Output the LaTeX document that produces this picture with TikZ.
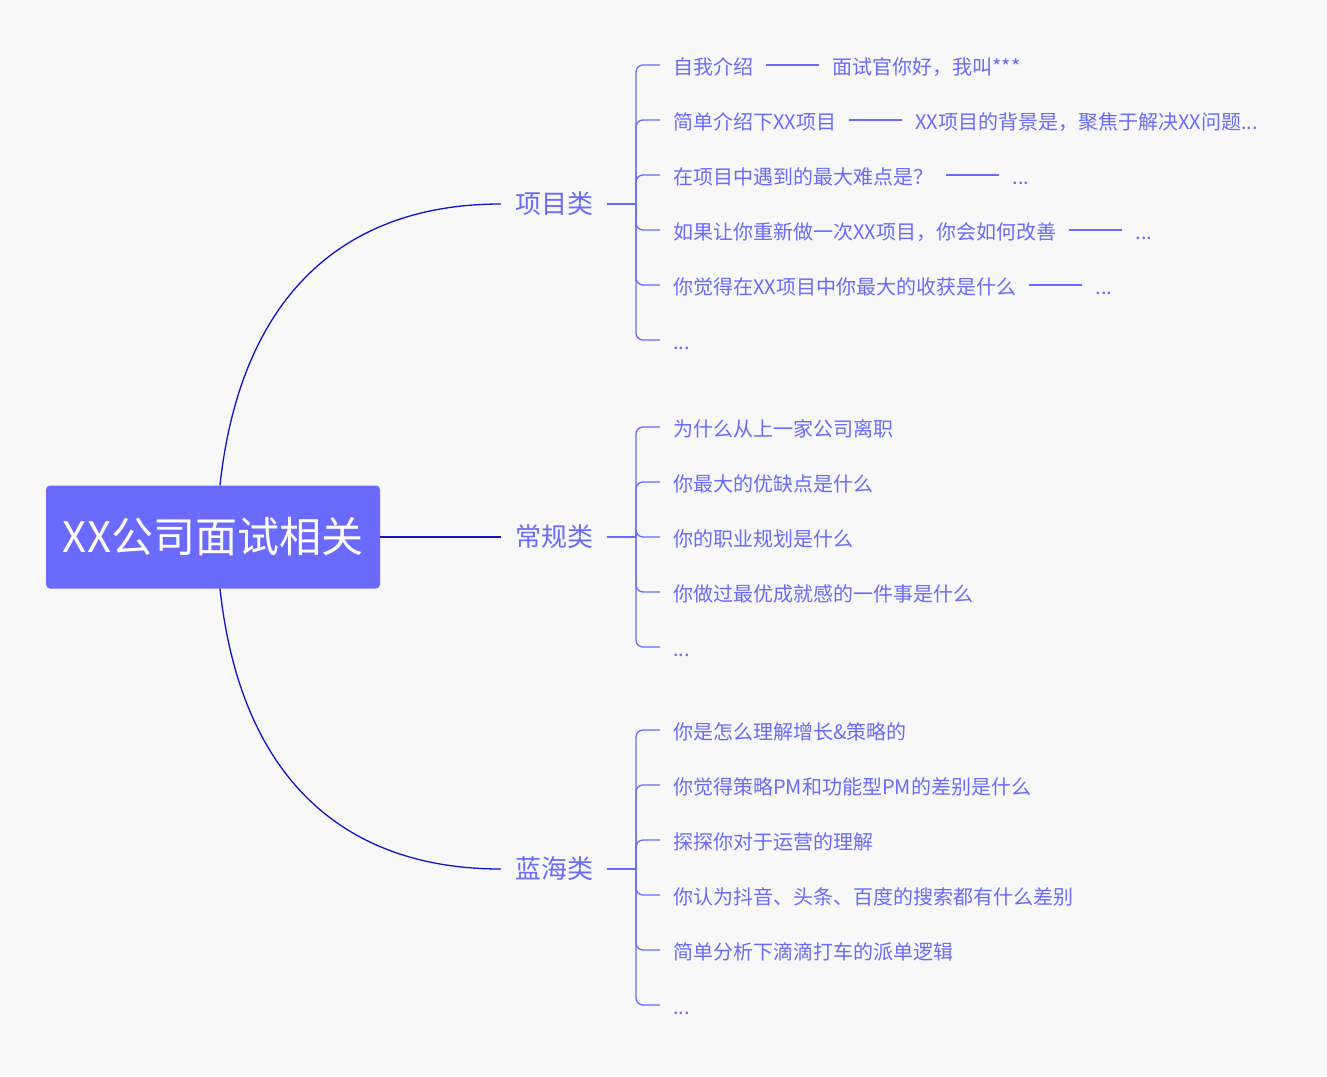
\documentclass[tikz,border=0pt]{standalone}
\usepackage{fontspec}
\setmainfont{Noto Sans CJK SC}
\usetikzlibrary{positioning}
\usepackage{xcolor}
\definecolor{MapBlue}{HTML}{6A6AFF}
\definecolor{MapDark}{HTML}{1212CC}
\definecolor{MapBack}{HTML}{F8F8F8}

\begin{document}
\begin{tikzpicture}[x=1pt, y=-1pt,
    rootbox/.style={fill=MapBlue, rounded corners=4pt, text=white, inner sep=0pt,
      minimum width=334pt, minimum height=103pt, font=\fontsize{42}{42}\selectfont},
    cat/.style={text=MapBlue, inner xsep=14pt, font=\fontsize{26}{26}\selectfont},
    item/.style={text=MapBlue, anchor=west, inner xsep=13pt, text height=20pt, text depth=2pt,
      font=\fontsize{20}{20}\selectfont},
    trunk/.style={draw=MapDark, line width=1.3pt},
    twig/.style={draw=MapBlue, line width=1.3pt, rounded corners=7pt},
    tie/.style={draw=MapBlue, line width=1.3pt}]
                \useasboundingbox (0,0) rectangle (1327,1076);
                \fill[MapBack] (0,0) rectangle (1327,1076);

                % Root and the three categories
                \node[rootbox] (root) at (213,537) {XX公司面试相关};
                \node[cat] (cat1) at (554,204) {项目类};
                \node[cat] (cat2) at (554,537) {常规类};
                \node[cat] (cat3) at (554,869) {蓝海类};

                \draw[trunk] ([xshift=7pt]root.north) .. controls (240,300) and (340,204) .. (cat1.west);
                \draw[trunk] (root.east) -- (cat2.west);
                \draw[trunk] ([xshift=7pt]root.south) .. controls (240,774) and (340,869) .. (cat3.west);

                % Project questions
                \coordinate (j1) at (636,204);
                \node[item] (a1) at (660,65) {自我介绍};
                \node[item, right=53pt of a1] (a1x) {面试官你好，我叫***};
                \node[item] (a2) at (660,120) {简单介绍下XX项目};
                \node[item, right=53pt of a2] (a2x) {XX项目的背景是，聚焦于解决XX问题...};
                \node[item] (a3) at (660,175) {在项目中遇到的最大难点是？};
                \node[item, right=53pt of a3] (a3x) {...};
                \node[item] (a4) at (660,230) {如果让你重新做一次XX项目，你会如何改善};
                \node[item, right=53pt of a4] (a4x) {...};
                \node[item] (a5) at (660,285) {你觉得在XX项目中你最大的收获是什么};
                \node[item, right=53pt of a5] (a5x) {...};
                \node[item] (a6) at (660,340) {...};

                \draw[twig] (cat1.east) -- (j1);
                \foreach \n in {a1,a2,a3,a4,a5,a6}
                    \draw[twig] (j1) |- (\n.west);
                \foreach \n in {a1,a2,a3,a4,a5}
                    \draw[tie] (\n) -- (\n x);

                % General questions
                \coordinate (j2) at (636,537);
                \node[item] (b1) at (660,427) {为什么从上一家公司离职};
                \node[item] (b2) at (660,482) {你最大的优缺点是什么};
                \node[item] (b3) at (660,537) {你的职业规划是什么};
                \node[item] (b4) at (660,592) {你做过最优成就感的一件事是什么};
                \node[item] (b5) at (660,647) {...};

                \draw[twig] (cat2.east) -- (j2);
                \foreach \n in {b1,b2,b3,b4,b5}
                    \draw[twig] (j2) |- (\n.west);

                % Blue ocean questions
                \coordinate (j3) at (636,869);
                \node[item] (c1) at (660,730) {你是怎么理解增长\&策略的};
                \node[item] (c2) at (660,785) {你觉得策略PM和功能型PM的差别是什么};
                \node[item] (c3) at (660,840) {探探你对于运营的理解};
                \node[item] (c4) at (660,895) {你认为抖音、头条、百度的搜索都有什么差别};
                \node[item] (c5) at (660,950) {简单分析下滴滴打车的派单逻辑};
                \node[item] (c6) at (660,1005) {...};

                \draw[twig] (cat3.east) -- (j3);
                \foreach \n in {c1,c2,c3,c4,c5,c6}
                    \draw[twig] (j3) |- (\n.west);
\end{tikzpicture}
\end{document}
